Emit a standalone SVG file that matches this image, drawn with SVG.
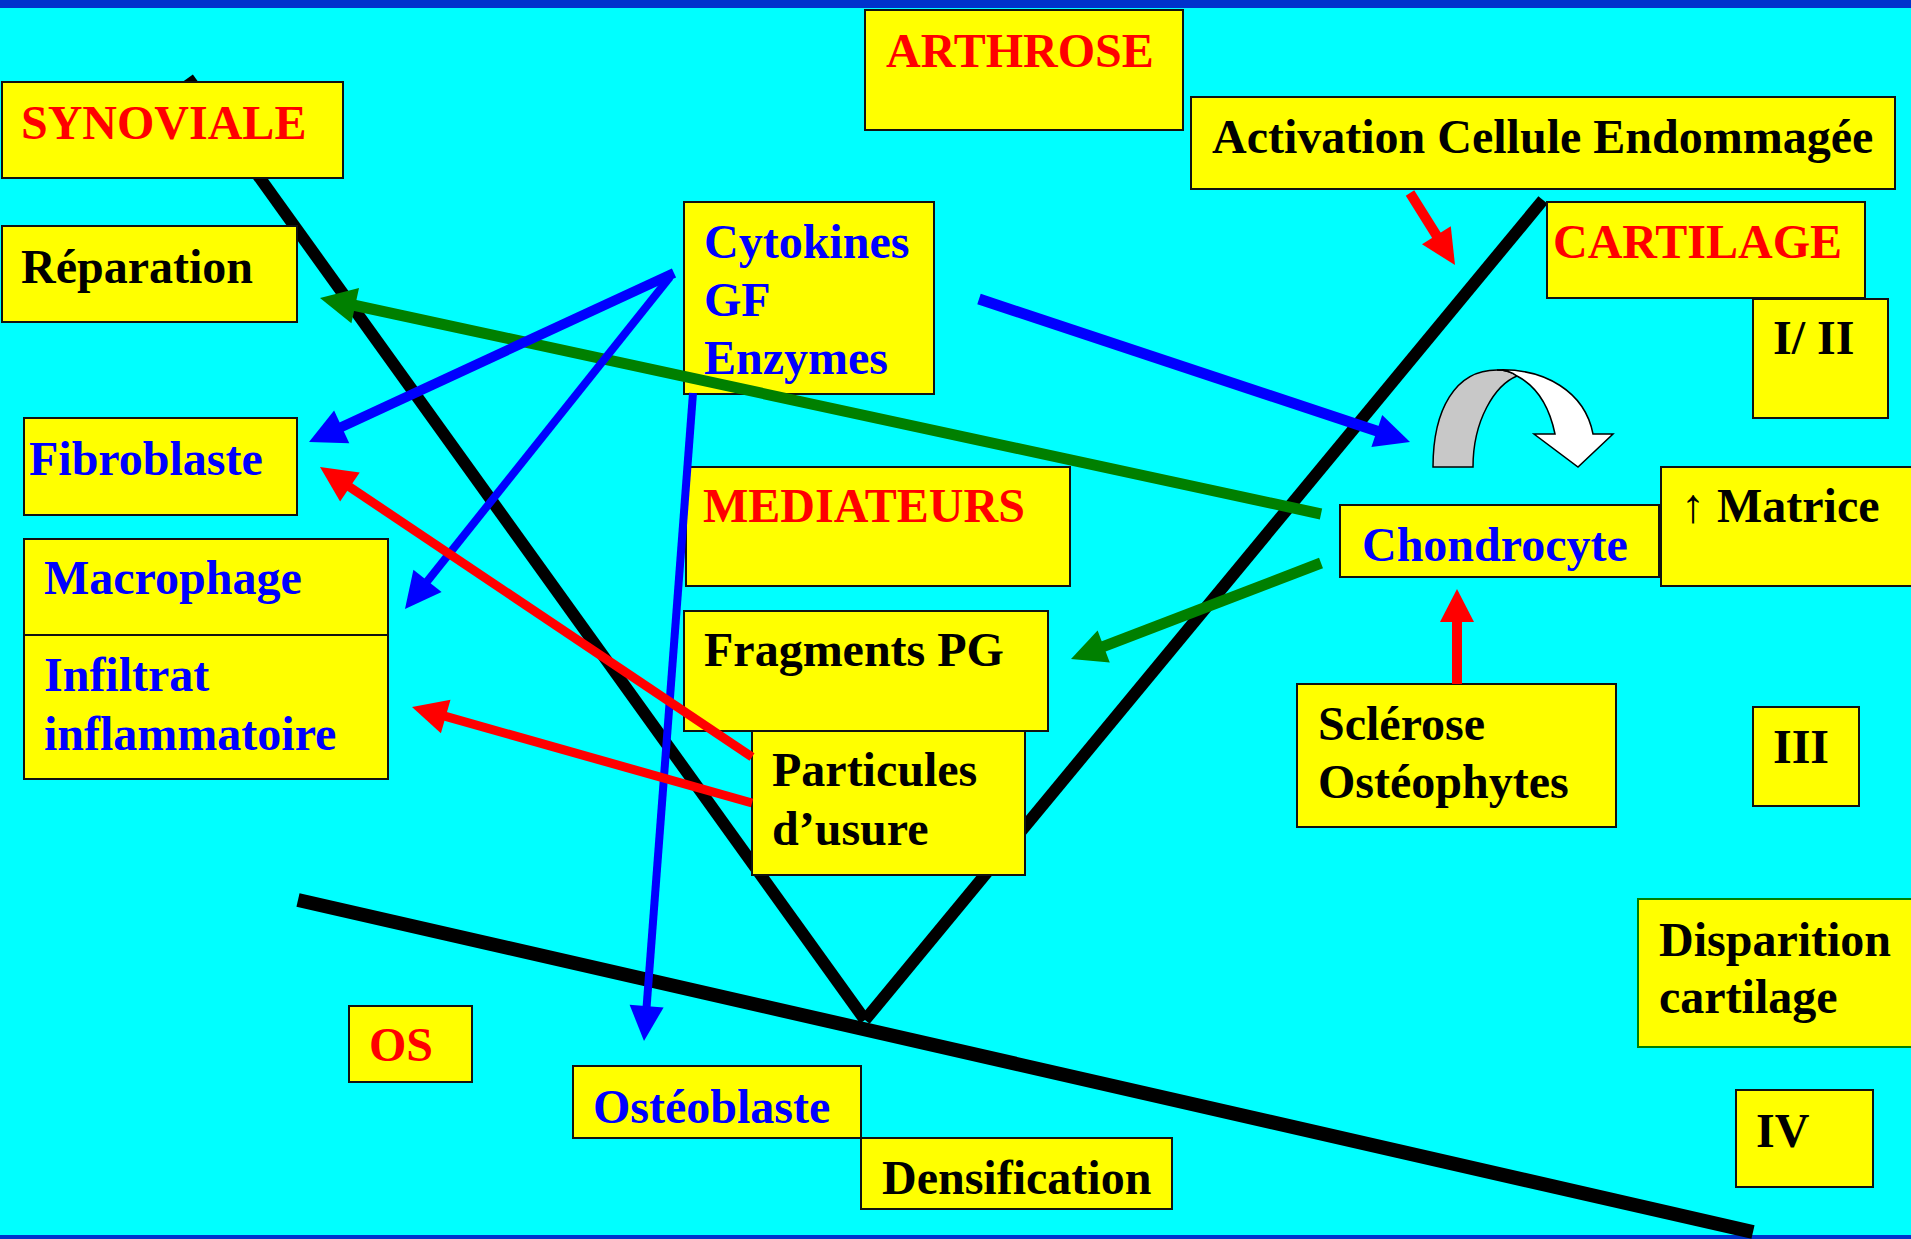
<svg xmlns="http://www.w3.org/2000/svg" width="1911" height="1239" viewBox="0 0 1911 1239">
<style>
.box{fill:#FFFF00;stroke:#111;stroke-width:2}
.t{font-family:"Liberation Serif","Times New Roman",serif;font-weight:bold;font-size:48px}
.red{fill:#FF0000}.blue{fill:#0000FF}.blk{fill:#000}
.ln{fill:none;stroke-linecap:butt}
.sb{stroke:#0000FF}.sr{stroke:#FF0000}.sg{stroke:#008000}
.hb{fill:#0000FF}.hr{fill:#FF0000}.hg{fill:#008000}
</style>
<rect x="0" y="0" width="1911" height="1239" fill="#00FFFF"/>
<rect x="0" y="0" width="1911" height="8" fill="#0033CC"/>
<rect x="0" y="1235" width="1911" height="4" fill="#0033CC"/>
<g id="structure" stroke="#000" fill="none">
<line x1="188" y1="78" x2="865" y2="1020" stroke-width="12"/>
<line x1="865" y1="1020" x2="1543" y2="200" stroke-width="12"/>
<line x1="298" y1="900" x2="1753" y2="1232" stroke-width="14"/>
</g>
<g id="nodes">
<g id="arthrose"><rect class="box" x="865" y="10" width="318" height="120"/><text class="t red" x="886" y="67">ARTHROSE</text></g>
<g id="synoviale"><rect class="box" x="2" y="82" width="341" height="96"/><text class="t red" x="21" y="139">SYNOVIALE</text></g>
<g id="activation"><rect class="box" x="1191" y="97" width="704" height="92"/><text class="t blk" x="1212" y="153">Activation Cellule Endommagée</text></g>
<g id="reparation"><rect class="box" x="2" y="226" width="295" height="96"/><text class="t blk" x="21" y="283">Réparation</text></g>
<g id="cytokines"><rect class="box" x="684" y="202" width="250" height="192"/><text class="t blue" x="704" y="258">Cytokines</text><text class="t blue" x="704" y="316">GF</text><text class="t blue" x="704" y="374">Enzymes</text></g>
<g id="cartilage"><rect class="box" x="1547" y="202" width="318" height="96"/><text class="t red" x="1553" y="258">CARTILAGE</text></g>
<g id="stade12"><rect class="box" x="1753" y="299" width="135" height="119"/><text class="t blk" x="1773" y="354">I/ II</text></g>
<g id="fibroblaste"><rect class="box" x="24" y="418" width="273" height="97"/><text class="t blue" x="29" y="475">Fibroblaste</text></g>
<g id="mediateurs"><rect class="box" x="686" y="467" width="384" height="119"/><text class="t red" x="703" y="522">MEDIATEURS</text></g>
<g id="matrice"><rect class="box" x="1661" y="467" width="260" height="119"/><text class="t blk" x="1681" y="522">↑ Matrice</text></g>
<g id="chondrocyte"><rect class="box" x="1340" y="505" width="319" height="72"/><text class="t blue" x="1362" y="561">Chondrocyte</text></g>
<g id="macrophage"><rect class="box" x="24" y="539" width="364" height="96"/><text class="t blue" x="44" y="594">Macrophage</text></g>
<g id="infiltrat"><rect class="box" x="24" y="635" width="364" height="144"/><text class="t blue" x="44" y="691">Infiltrat</text><text class="t blue" x="44" y="750">inflammatoire</text></g>
<g id="fragments"><rect class="box" x="684" y="611" width="364" height="120"/><text class="t blk" x="704" y="666">Fragments PG</text></g>
<g id="particules"><rect class="box" x="752" y="731" width="273" height="144"/><text class="t blk" x="772" y="786">Particules</text><text class="t blk" x="772" y="845">d’usure</text></g>
<g id="sclerose"><rect class="box" x="1297" y="684" width="319" height="143"/><text class="t blk" x="1318" y="740">Sclérose</text><text class="t blk" x="1318" y="798">Ostéophytes</text></g>
<g id="stade3"><rect class="box" x="1753" y="707" width="106" height="99"/><text class="t blk" x="1773" y="763">III</text></g>
<g id="disparition"><rect class="box" x="1638" y="899" width="280" height="148" style="stroke:#008000"/><text class="t blk" x="1659" y="956">Disparition</text><text class="t blk" x="1659" y="1013">cartilage</text></g>
<g id="os"><rect class="box" x="349" y="1006" width="123" height="76"/><text class="t red" x="369" y="1061">OS</text></g>
<g id="osteoblaste"><rect class="box" x="573" y="1066" width="288" height="72"/><text class="t blue" x="593" y="1123">Ostéoblaste</text></g>
<g id="densification"><rect class="box" x="861" y="1138" width="311" height="71"/><text class="t blk" x="882" y="1194">Densification</text></g>
<g id="stade4"><rect class="box" x="1736" y="1090" width="137" height="97"/><text class="t blk" x="1756" y="1147">IV</text></g>
</g>
<g id="connectors">
<line class="ln sg" x1="1321" y1="514" x2="353" y2="305" stroke-width="11"/>
<polygon class="hg" points="320,298 359,288 351.4,323.2"/>
<line class="ln sg" x1="1321" y1="563" x2="1101.8" y2="647.2" stroke-width="11"/>
<polygon class="hg" points="1071,659 1097.6,630.6 1109.8,662.4"/>
<line class="ln sb" x1="674" y1="273" x2="339.9" y2="427.7" stroke-width="10"/>
<polygon class="hb" points="309,442 334.1,410.6 349.3,443.2"/>
<line class="ln sb" x1="670" y1="277" x2="426.3" y2="582.5" stroke-width="8"/>
<polygon class="hb" points="405,609 413.4,569.7 441.6,592.1"/>
<line class="ln sb" x1="693" y1="393" x2="646.5" y2="1008" stroke-width="8"/>
<polygon class="hb" points="644,1041 629.6,1004.8 663.6,1007.4"/>
<line class="ln sb" x1="979" y1="299" x2="1378.7" y2="431.6" stroke-width="11"/>
<polygon class="hb" points="1410,442 1371.4,447.1 1382.2,414.9"/>
<line class="ln sr" x1="752" y1="757" x2="348.2" y2="486" stroke-width="9"/>
<polygon class="hr" points="320,467 359.7,472.6 340.1,501.6"/>
<line class="ln sr" x1="752" y1="803" x2="443.8" y2="715.9" stroke-width="9"/>
<polygon class="hr" points="412,707 450.5,699.7 440.9,733.3"/>
<line class="ln sr" x1="1410" y1="193" x2="1437.5" y2="237" stroke-width="10"/>
<polygon class="hr" points="1455,265 1422,244.3 1450.8,226.3"/>
<line class="ln sr" x1="1457" y1="684" x2="1457" y2="620" stroke-width="10"/>
<polygon class="hr" points="1457,589 1440,622 1474,622"/>
</g>
<g id="cycle-arrow" stroke="#000" stroke-width="1.5" stroke-linejoin="miter">
<path d="M1433,467 C1433,410 1455,370 1497,370 C1505,370 1512,372 1517,376 C1495,385 1473,420 1473,467 Z" fill="#C8C8C8"/>
<path d="M1497,370 C1545,368 1585,392 1593,434 L1613,434 L1578,467 L1534,434 L1555,434 C1549,405 1536,386 1517,376 C1512,372 1505,370 1497,370 Z" fill="#FFFFFF"/>
</g>
</svg>
